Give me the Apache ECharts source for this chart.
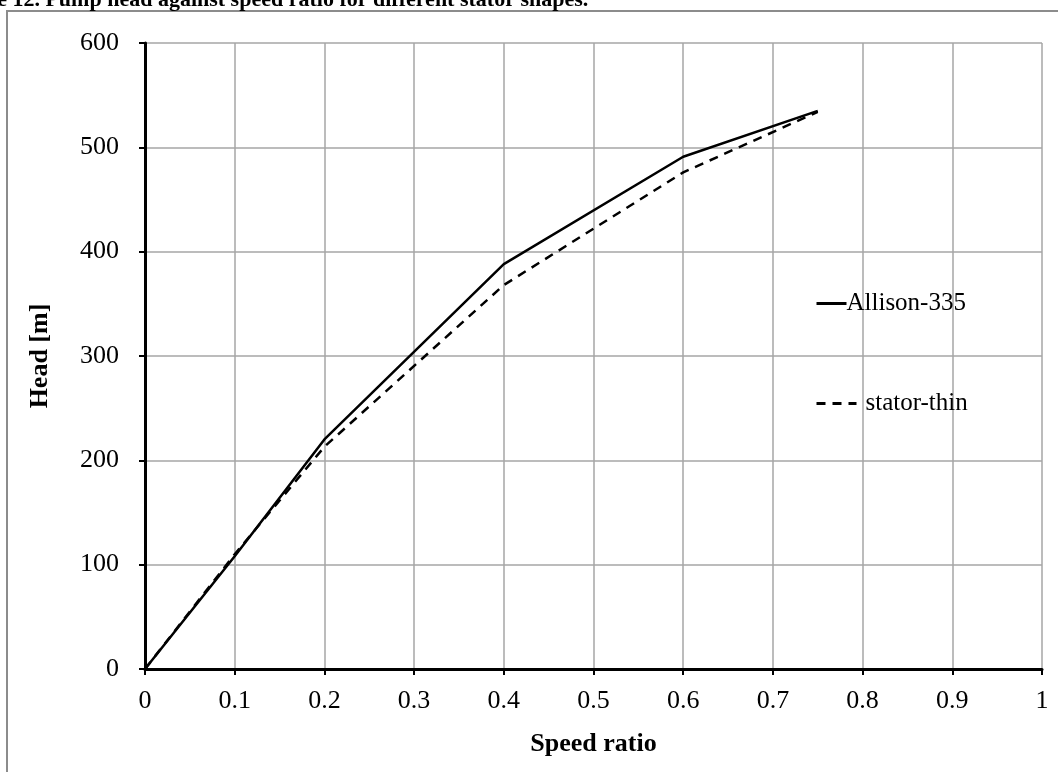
<!DOCTYPE html>
<html>
<head>
<meta charset="utf-8">
<script src="https://cdn.jsdelivr.net/npm/echarts@6/dist/echarts.min.js"></script>
<style>html,body{margin:0;padding:0;background:#fff}#c{width:1058px;height:772px}</style>
</head>
<body>
<div id="c"></div>
<script>
const speedRatio = [0, 0.1, 0.2, 0.4, 0.6, 0.75];
const allison335 = [0, 108, 220, 388, 491, 535];
const statorThin = [0, 110, 213, 368, 476, 534];
const seriesNames = ['Allison-335', 'stator-thin'];
const titleText = 'Figure 12. Pump head against speed ratio for different stator shapes.';

const chart = echarts.init(document.getElementById('c'));
const font = '"Liberation Serif", "Times New Roman", serif';
chart.setOption({
  animation: false,
  backgroundColor: '#fff',
  textStyle: { fontFamily: font },
  graphic: [
    { type: 'rect', shape: { x: 7, y: 11, width: 1100, height: 800 }, style: { fill: 'none', stroke: '#8c8c8c', lineWidth: 2 }, silent: true, z: -1 },
    { type: 'text', x: -55, y: -11, style: { text: titleText, font: 'bold 22px ' + font, fill: '#000' } }
  ],
  grid: { left: 145, right: 16, top: 43, bottom: 103, containLabel: false },
  legend: [
    {
      data: [seriesNames[0]],
      left: 810, top: 286,
      itemWidth: 30, itemHeight: 14,
      itemStyle: { opacity: 0 },
      lineStyle: { width: 3 },
      textStyle: { fontFamily: font, fontSize: 25, color: '#000', padding: [0, 0, 0, -5] }
    },
    {
      data: [seriesNames[1]],
      left: 810, top: 386,
      itemWidth: 40, itemHeight: 14,
      itemStyle: { opacity: 0 },
      lineStyle: { width: 3 },
      textStyle: { fontFamily: font, fontSize: 25, color: '#000', padding: [0, 0, 0, 4] }
    }
  ],
  xAxis: {
    type: 'value', min: 0, max: 1, interval: 0.1,
    name: 'Speed ratio', nameLocation: 'middle', nameGap: 62,
    nameTextStyle: { fontFamily: font, fontSize: 26, fontWeight: 'bold', color: '#000' },
    axisLine: { lineStyle: { color: '#000', width: 3 } },
    axisTick: { show: true, length: 6, lineStyle: { color: '#000', width: 2 } },
    axisLabel: { margin: 19, fontFamily: font, fontSize: 26, color: '#000' },
    splitLine: { show: true, lineStyle: { color: '#a6a6a6', width: 1.5 } }
  },
  yAxis: {
    type: 'value', min: 0, max: 600, interval: 100,
    name: 'Head [m]', nameLocation: 'middle', nameGap: 92,
    nameTextStyle: { fontFamily: font, fontSize: 26, fontWeight: 'bold', color: '#000' },
    axisLine: { show: true, lineStyle: { color: '#000', width: 3 } },
    axisTick: { show: true, length: 6, lineStyle: { color: '#000', width: 2 } },
    axisLabel: { margin: 26, fontFamily: font, fontSize: 26, color: '#000' },
    splitLine: { show: true, lineStyle: { color: '#a6a6a6', width: 1.5 } }
  },
  series: [
    {
      name: seriesNames[0], type: 'line', symbol: 'none',
      data: speedRatio.map((x, i) => [x, allison335[i]]),
      lineStyle: { color: '#000', width: 2.5 },
      itemStyle: { color: '#000' }
    },
    {
      name: seriesNames[1], type: 'line', symbol: 'none',
      data: speedRatio.map((x, i) => [x, statorThin[i]]),
      lineStyle: { color: '#000', width: 2.5, type: [9, 7] },
      itemStyle: { color: '#000' }
    }
  ]
});
</script>
</body>
</html>
